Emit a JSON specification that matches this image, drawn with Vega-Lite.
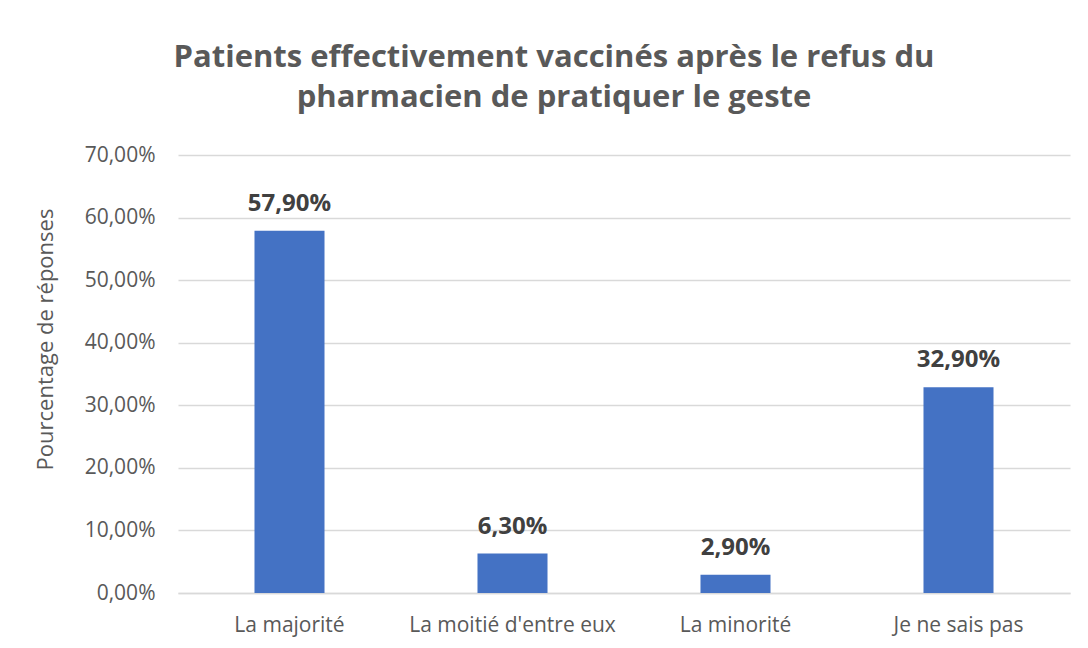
{
  "$schema": "https://vega.github.io/schema/vega-lite/v6.json",
  "autosize": "none",
  "width": 892,
  "height": 438,
  "padding": {"left": 178, "top": 155, "right": 18, "bottom": 55},
  "background": "white",
  "config": {
    "locale": {"number": {"decimal": ",", "thousands": " ", "grouping": [3], "currency": ["", " €"]}},
    "view": {"stroke": null},
    "font": "Open Sans"
  },
  "title": {
    "text": ["Patients effectivement vaccinés après le refus du", "pharmacien de pratiquer le geste"],
    "font": "Open Sans",
    "fontSize": 31,
    "fontWeight": "bold",
    "color": "#595959",
    "anchor": "middle",
    "dx": -70,
    "offset": 30,
    "lineHeight": 40
  },
  "data": {
    "values": [
      {"categorie": "La majorité", "pourcentage": 0.579},
      {"categorie": "La moitié d'entre eux", "pourcentage": 0.063},
      {"categorie": "La minorité", "pourcentage": 0.029},
      {"categorie": "Je ne sais pas", "pourcentage": 0.329}
    ]
  },
  "encoding": {
    "x": {
      "field": "categorie",
      "type": "nominal",
      "sort": null,
      "scale": {"paddingInner": 0.686, "paddingOuter": 0.343},
      "axis": {
        "title": null,
        "labelAngle": 0,
        "labelFontSize": 21,
        "labelColor": "#595959",
        "labelPadding": 21,
        "labelLimit": 0,
        "labelOverlap": false,
        "ticks": false,
        "domainColor": "#D9D9D9",
        "domainWidth": 1.5,
        "grid": false
      }
    },
    "y": {
      "field": "pourcentage",
      "type": "quantitative",
      "scale": {"domain": [0, 0.7], "nice": false},
      "axis": {
        "title": "Pourcentage de réponses",
        "titleFontSize": 22,
        "titleFontWeight": "normal",
        "titleColor": "#595959",
        "titleX": -133,
        "titleY": 184,
        "titleAngle": -90,
        "titleAlign": "center",
        "titleBaseline": "middle",
        "format": ".2%",
        "values": [0, 0.1, 0.2, 0.3, 0.4, 0.5, 0.6, 0.7],
        "labelFontSize": 21,
        "labelColor": "#595959",
        "labelPadding": 23,
        "ticks": false,
        "domain": false,
        "gridColor": "#D9D9D9",
        "gridWidth": 1.5
      }
    }
  },
  "layer": [
    {"mark": {"type": "bar", "color": "#4472C4"}},
    {
      "mark": {"type": "text", "fontSize": 24, "fontWeight": "bold", "color": "#404040", "baseline": "alphabetic", "dy": -20},
      "encoding": {"text": {"field": "pourcentage", "type": "quantitative", "format": ".2%"}}
    }
  ]
}
